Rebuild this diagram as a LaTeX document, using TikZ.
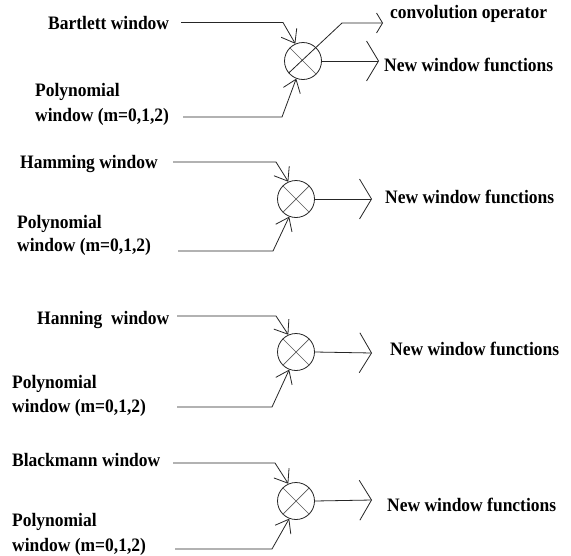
\documentclass[tikz,border=0pt]{standalone}
\usepackage{fontspec}
\setmainfont{Liberation Serif}[FakeStretch=0.92]
\usetikzlibrary{arrows.meta}
\tikzset{
  lbl/.style={anchor=base west, inner sep=0pt, font=\fontsize{19}{23}\selectfont\bfseries},
  wire/.style={draw=black!85, line width=0.8pt},
  inarrow/.style={wire, -{Straight Barb[length=12pt,width=18pt]}},
  outarrow/.style={wire, -{Straight Barb[length=12pt,width=40pt]}},
  convarrow/.style={wire, -{Straight Barb[length=6pt,width=20pt]}},
  mult/.style={circle, draw=black!85, line width=0.8pt, minimum size=37pt, inner sep=0pt},
  cross/.style={draw=black!65, line width=0.7pt},
}
\begin{document}
\begin{tikzpicture}[x=1pt, y=-1pt]
\useasboundingbox (0,0) rectangle (571,555);
\fill[white] (0,0) rectangle (571,555);

% ---- Bartlett block ----
\node[mult] (m1) at (303,61) {};
\draw[cross] (m1.135) -- (m1.-45);
\coordinate (k1) at (342,23);
\coordinate (cv1) at (383,23);
\draw[convarrow] (m1.220) -- (k1) -- (cv1);
\node[lbl] (conv) at (390,18.5) {convolution operator};
\node[lbl] (bart) at (48,29) {Bartlett window};
\coordinate (s1) at (181,22.5);
\coordinate (t1) at (283,22.5);
\draw[inarrow] (s1) -- (t1) -- (m1.114);
\node[lbl] (poly1) at (35,96) {Polynomial};
\node[lbl] (win1) at (35,121.5) {window (m=0,1,2)};
\coordinate (u1) at (183,117);
\coordinate (v1) at (282,117);
\draw[inarrow] (u1) -- (v1) -- (m1.249);
\coordinate (o1) at (379,61);
\draw[outarrow] (m1.east) -- (o1);
\node[lbl] (new1) at (384,71) {New window functions};

% ---- Hamming block ----
\node[mult] (m2) at (296,199) {};
\draw[cross] (m2.135) -- (m2.-45);
\draw[cross] (m2.-135) -- (m2.45);
\node[lbl] (hamm) at (20,168) {Hamming window};
\coordinate (s2) at (173,162);
\coordinate (t2) at (276,162);
\draw[inarrow] (s2) -- (t2) -- (m2.114);
\node[lbl] (poly2) at (17,228) {Polynomial};
\node[lbl] (win2) at (17,251) {window (m=0,1,2)};
\coordinate (u2) at (178,251);
\coordinate (v2) at (273,251);
\draw[inarrow] (u2) -- (v2) -- (m2.249);
\coordinate (o2) at (372,199);
\draw[outarrow] (m2.east) -- (o2);
\node[lbl] (new2) at (385,203) {New window functions};

% ---- Hanning block ----
\node[mult] (m3) at (296,352) {};
\draw[cross] (m3.135) -- (m3.-45);
\draw[cross] (m3.-135) -- (m3.45);
\node[lbl] (hann) at (37,324) {Hanning\ \ window};
\coordinate (s3) at (177,316);
\coordinate (t3) at (276,316);
\draw[inarrow] (s3) -- (t3) -- (m3.114);
\node[lbl] (poly3) at (12,388) {Polynomial};
\node[lbl] (win3) at (12,412) {window (m=0,1,2)};
\coordinate (u3) at (177,407);
\coordinate (v3) at (272,407);
\draw[inarrow] (u3) -- (v3) -- (m3.249);
\coordinate (o3) at (372,353);
\draw[outarrow] (m3.east) -- (o3);
\node[lbl] (new3) at (390,355) {New window functions};

% ---- Blackmann block ----
\node[mult] (m4) at (296,501) {};
\draw[cross] (m4.135) -- (m4.-45);
\draw[cross] (m4.-135) -- (m4.45);
\node[lbl] (black) at (12,466) {Blackmann window};
\coordinate (s4) at (173,463);
\coordinate (t4) at (275,463);
\draw[inarrow] (s4) -- (t4) -- (m4.114);
\node[lbl] (poly4) at (12,526) {Polynomial};
\node[lbl] (win4) at (12,551) {window (m=0,1,2)};
\coordinate (u4) at (175,549);
\coordinate (v4) at (272,549);
\draw[inarrow] (u4) -- (v4) -- (m4.249);
\coordinate (o4) at (372,500);
\draw[outarrow] (m4.east) -- (o4);
\node[lbl] (new4) at (387,511) {New window functions};
\end{tikzpicture}
\end{document}
